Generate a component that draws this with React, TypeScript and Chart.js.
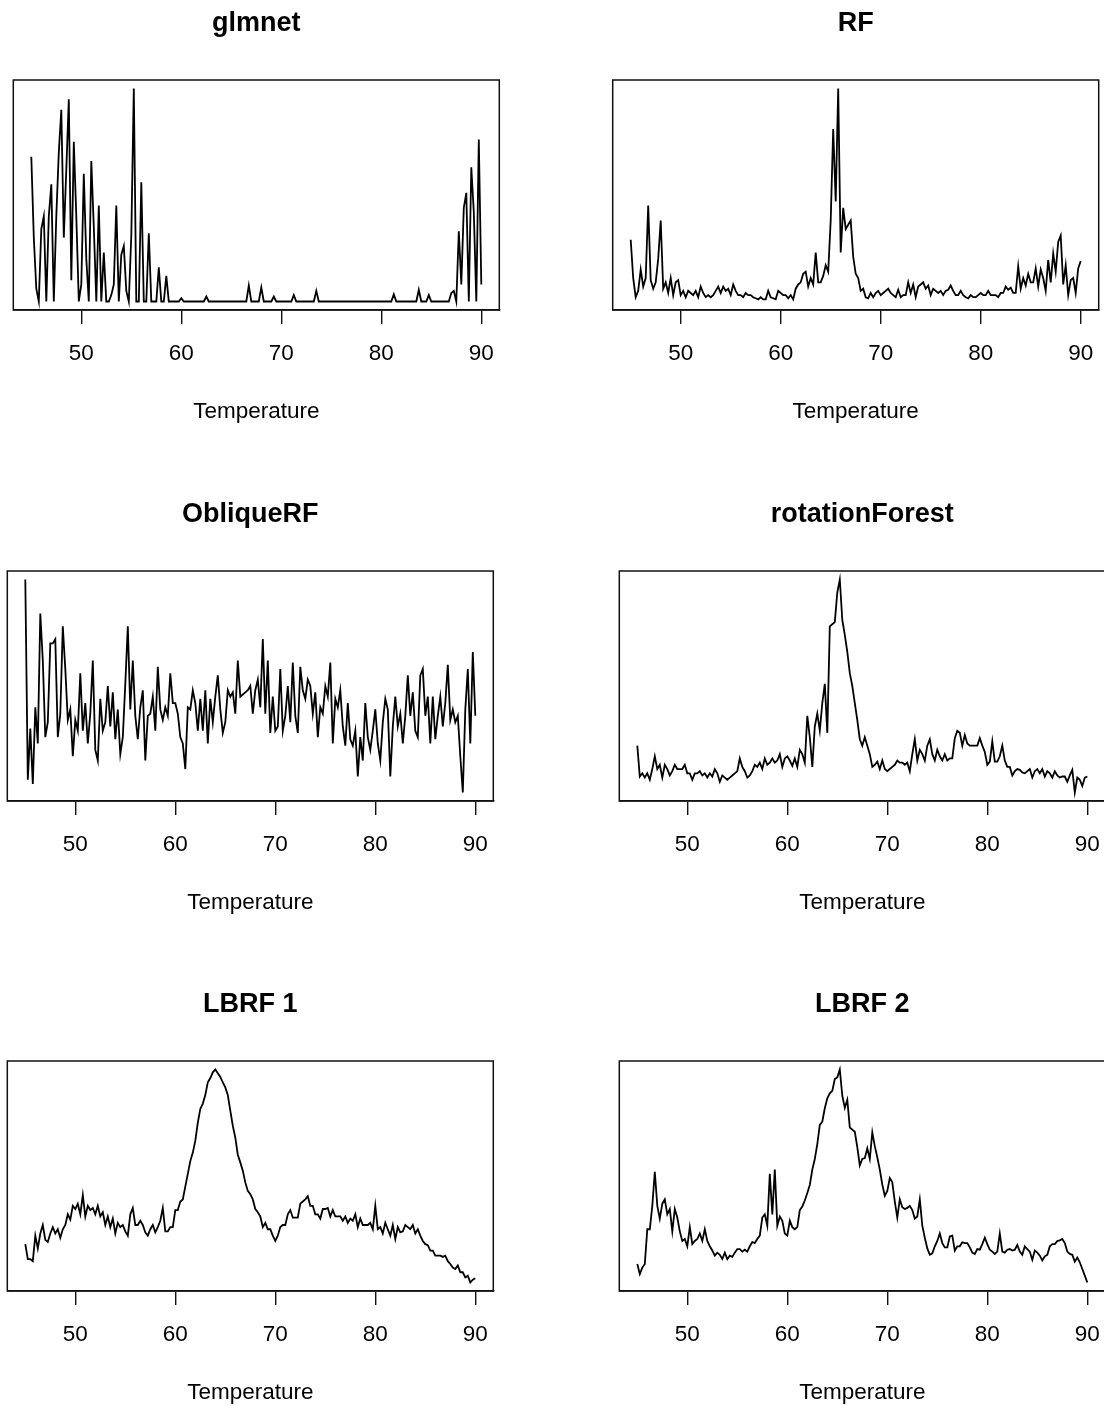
import React, { useEffect, useRef } from "react";
import { Chart, registerables } from "chart.js";

Chart.register(...registerables);

const FONT = "'Liberation Sans', Arial, Helvetica, sans-serif";

// Temperature grid (x categories)
const TEMP_START = 45;
const TEMP_STEP = 0.25;
const TEMP_COUNT = 181;
const temperatures: number[] = Array.from({ length: TEMP_COUNT }, (_, i) => TEMP_START + i * TEMP_STEP);

const xTicks = [50, 60, 70, 80, 90];
const xTickLabels = ["50", "60", "70", "80", "90"];
const xAxisTitle = "Temperature";

// Series values (relative importance, 0 = panel minimum, 100 = panel maximum)
const glmnet = [
  68, 30, 6, 0, 34, 40, 0, 40, 55, 0,
  40, 70, 90, 30, 62, 95, 10, 75, 40, 0,
  8, 60, 20, 0, 66, 35, 0, 45, 0, 23,
  0, 0, 3, 8, 45, 0, 22, 26, 5, 0,
  31, 100, 0, 0, 56, 0, 0, 32, 0, 0,
  0, 16, 0, 0, 12, 0, 0, 0, 0, 0,
  1.5, 0, 0, 0, 0, 0, 0, 0, 0, 0,
  2.3, 0, 0, 0, 0, 0, 0, 0, 0, 0,
  0, 0, 0, 0, 0, 0, 0, 7.5, 0, 0,
  0, 0, 6.6, 0, 0, 0, 0, 2.3, 0, 0,
  0, 0, 0, 0, 0, 3, 0, 0, 0, 0,
  0, 0, 0, 0, 5, 0, 0, 0, 0, 0,
  0, 0, 0, 0, 0, 0, 0, 0, 0, 0,
  0, 0, 0, 0, 0, 0, 0, 0, 0, 0,
  0, 0, 0, 0, 0, 3.4, 0, 0, 0, 0,
  0, 0, 0, 0, 0, 5.5, 0, 0, 0, 3,
  0, 0, 0, 0, 0, 0, 0, 0, 4, 5,
  0, 33, 8, 44, 51, 0, 63, 42, 0, 76,
  8,
];

const rf = [
  29, 11, 2, 5, 15, 7, 11, 45, 10, 6,
  9, 20, 38, 6, 9, 4, 11, 3, 9, 10,
  3, 5, 2, 5, 4, 3, 5, 2, 7, 4,
  2, 3, 2, 3, 5, 7, 4, 7, 5, 6,
  3, 8, 5, 3, 3, 2, 4, 3, 3, 2,
  1.5, 1, 2, 1, 1, 5, 2, 1.5, 1, 5,
  4, 3, 3, 1.5, 3, 1, 6, 8, 9, 13,
  14, 7, 11, 8, 23, 9, 9, 12, 17, 14,
  38, 81, 47, 100, 23, 44, 34, 36, 38, 21,
  13, 11, 5, 6, 2, 1.5, 4, 2, 4, 5,
  3, 4, 5, 6, 4, 3, 2, 5.5, 2, 3,
  3, 9, 4, 8, 2, 7, 8, 9, 6, 7.5,
  3, 6, 5, 4, 5, 3, 5, 5.5, 7.5, 5,
  3, 3, 5, 3, 2, 1.5, 3, 2, 2, 3,
  4, 3, 3, 5, 3, 3, 3, 2, 4, 4,
  7, 5.5, 6.5, 4, 4, 16.5, 6, 11, 7.5, 13,
  9, 9, 15.5, 7, 15, 11, 5, 19.5, 9, 22.5,
  14, 28, 31, 8, 17, 3, 10, 11, 4, 15.5,
  19,
];

const obliqueRF = [
  100, 6, 30, 4, 40, 23, 84, 62, 26, 33,
  70, 70, 72, 26, 37, 78, 58, 34, 39, 17,
  34, 29, 56, 29, 42, 23, 37, 62, 20, 15,
  44, 29, 33, 50, 31, 47, 25, 39, 18, 26,
  51, 78, 39, 62, 36, 25, 40, 48, 15, 36,
  37, 45, 29, 59, 39, 34, 40, 36, 56, 42,
  42, 37, 26, 23, 11, 40, 39, 48, 42, 29,
  44, 29, 48, 23, 44, 33, 45, 55, 39, 28,
  33, 48, 45, 47, 37, 62, 45, 46, 47, 48,
  50, 37, 48, 53, 40, 72, 37, 62, 28, 45,
  29, 31, 58, 29, 36, 50, 33, 61, 36, 28,
  59, 48, 44, 53, 50, 37, 47, 26, 40, 37,
  50, 45, 61, 23, 44, 40, 48, 31, 22, 42,
  25, 22, 29, 7.5, 26, 15, 42, 26, 20, 29,
  39, 23, 15, 33, 44, 39, 7.5, 31, 45, 31,
  37, 23, 36, 55, 36, 47, 29, 26, 55, 58,
  36, 45, 23, 45, 25, 36, 45, 31, 42, 60,
  34, 39, 33, 36, 17, 0, 39, 58, 23, 66,
  36,
];

const rotationForest = [
  22, 7.5, 9, 7, 9, 6, 11, 17, 11, 13,
  7, 13, 11, 8, 10, 13, 11, 11, 11, 13,
  9, 9, 6, 9, 9, 10, 8, 9, 7, 9,
  7.5, 11, 9, 5, 8, 7, 6, 7, 8, 9,
  10, 16, 12, 10, 7, 8, 10, 13, 12, 14,
  11, 16, 13, 14, 16, 14, 15, 18, 12, 16,
  17, 15, 12.5, 16, 12, 20, 18, 14, 36, 26,
  12, 31, 37, 29, 42, 51, 28, 78, 79, 80,
  94, 100, 81, 74, 66, 56, 50, 42, 34, 25,
  22, 26, 22, 18, 12, 13, 14.5, 11, 15, 11,
  10, 11, 12, 13, 15, 14, 14, 13, 14, 10,
  18, 25, 15, 20, 18, 15, 22, 25, 18, 15,
  20, 17, 15, 18, 15, 16, 16, 25.5, 29, 28,
  22, 27, 23, 22, 22, 22, 22, 25.5, 22, 19,
  13, 14.5, 24, 14.5, 14.5, 17, 22, 15, 12, 12,
  8, 10, 11, 10.6, 9.4, 9, 10, 11, 7, 10,
  11, 9, 11, 7.5, 10, 9, 7, 10, 8, 7,
  7.5, 7.5, 5, 8, 10.6, 0, 7, 6, 3, 7,
  7.5,
];

const lbrf1 = [
  18, 11, 11, 10, 22, 16, 23, 27, 20, 19,
  23, 26, 23, 25, 21, 25, 27, 32, 29.5, 36,
  34.5, 37, 32, 41, 31, 36, 34, 35, 32, 36,
  31, 33, 27, 31, 26, 30, 23, 28, 26, 27,
  24, 22, 32, 35, 27, 27, 29, 27, 23.5, 22,
  25, 27, 23.5, 26, 29, 35, 24, 24, 26, 26,
  34, 34, 38, 39, 45, 51, 57, 61, 66.5, 75,
  81.5, 84, 88, 94, 96, 98.7, 100, 98.3, 96.5, 94,
  91.6, 88, 80.7, 73.6, 68, 60, 56.4, 52.5, 47, 43,
  41.5, 39, 34.5, 33, 31, 26, 28, 25, 25, 22,
  19.5, 22, 26, 27, 27, 32, 34, 30.5, 30.5, 30.5,
  37, 38, 39, 40.5, 36, 36, 32, 32, 30, 34.5,
  34.5, 35, 31, 34, 31, 31, 31, 29, 31, 28,
  30, 29, 32, 26, 30, 27, 27, 27, 28, 25,
  36, 25, 26, 23, 28, 25, 22, 27, 20.4, 26,
  23.5, 24, 27, 26, 25, 27, 23, 25, 22, 19.5,
  18, 17.5, 15, 15, 12.6, 12.6, 12.6, 12, 12.6, 10,
  8.7, 7, 6.3, 8, 4.8, 4.8, 2.4, 3.2, 0, 1.3,
  2,
];

const lbrf2 = [
  8.7, 4, 7, 8.7, 25, 25, 36, 52, 36, 30,
  37, 39, 32, 34.5, 24, 34.5, 30.5, 24, 19.5, 20.4,
  17, 26, 18, 19.5, 20.4, 23, 19.5, 25, 19.5, 17,
  15, 12.6, 14, 13, 11, 14, 11, 12.6, 12, 14,
  15.7, 15.7, 14.5, 15.4, 14.5, 17, 19, 18.5, 20.4, 22,
  30.5, 32, 26.7, 51, 32, 53, 26.7, 31, 29, 23,
  22, 29, 26, 25, 26, 34, 35.7, 38.5, 42, 45.8,
  53, 58, 65, 74, 75.5, 81.8, 86.5, 88.8, 90, 95.5,
  96.3, 100, 87.7, 82, 85.8, 72.8, 71.8, 70.8, 63.5, 55,
  58, 58.4, 63, 58, 70.5, 64, 58.8, 53, 46, 40.7,
  43, 49, 47, 38, 30.5, 39, 35.3, 34.5, 35, 36,
  34, 30, 31, 39, 26.7, 21, 16, 13, 13.7, 17,
  19.5, 23, 18.5, 16.5, 16.5, 21.6, 22, 15, 17, 17,
  18.9, 18.5, 18.5, 16.5, 14, 13.4, 15.7, 15.4, 18, 21,
  18, 15.4, 14.5, 13.4, 14.5, 23, 14.5, 14, 15.4, 15.7,
  15, 15.4, 17.6, 14.5, 13, 17, 15.7, 14.5, 10.7, 15,
  14, 12.6, 10.4, 12.3, 13, 17, 18, 18, 19.5, 19.8,
  20.4, 18.5, 14.5, 13.4, 13, 9.8, 11.7, 9.5, 6.3, 3.2,
  0,
];

// Layout of the six panels (positions only)
const CANVAS_W = 600;
const CANVAS_H = 430;
const panels = [
  { title: "glmnet", values: glmnet, left: 0, top: 0, padL: 13.3, padR: 100.7 },
  { title: "RF", values: rf, left: 552, top: 0, padL: 60.7, padR: 53.3 },
  { title: "ObliqueRF", values: obliqueRF, left: 0, top: 491, padL: 7.3, padR: 106.7 },
  { title: "rotationForest", values: rotationForest, left: 552, top: 491, padL: 67.3, padR: 46.7 },
  { title: "LBRF 1", values: lbrf1, left: 0, top: 981, padL: 7.3, padR: 106.7 },
  { title: "LBRF 2", values: lbrf2, left: 552, top: 981, padL: 67.3, padR: 46.7 },
];

const boxPlugin = {
  id: "plotBox",
  afterDatasetsDraw(chart: any) {
    const { ctx, chartArea } = chart;
    const { left, top, right, bottom } = chartArea;
    ctx.save();
    ctx.strokeStyle = "#111";
    ctx.lineWidth = 1.5;
    ctx.strokeRect(left, top, right - left, bottom - top);
    ctx.restore();
  },
};

function Panel(props: { title: string; values: number[]; left: number; top: number; padL: number; padR: number }) {
  const { title, values, left, top, padL, padR } = props;
  const ref = useRef<HTMLCanvasElement | null>(null);
  useEffect(() => {
    if (!ref.current) return;
    const chart = new Chart(ref.current, {
      type: "line",
      data: {
        datasets: [
          {
            data: temperatures.map((t, i) => ({ x: t, y: values[i] })),
            borderColor: "#000",
            borderWidth: 1.8,
            pointRadius: 0,
            tension: 0,
            fill: false,
          },
        ],
      },
      options: {
        animation: false,
        responsive: false,
        maintainAspectRatio: false,
        devicePixelRatio: 1,
        events: [],
        layout: { padding: { left: padL, right: padR, top: 0, bottom: 4.5 } },
        plugins: {
          legend: { display: false },
          tooltip: { enabled: false },
          title: {
            display: true,
            text: title,
            color: "#000",
            font: { family: FONT, size: 27, weight: "bold", lineHeight: 1.2 },
            padding: { top: 7.8, bottom: 39.8 },
          },
        },
        scales: {
          x: {
            type: "linear",
            min: 43.2,
            max: 91.8,
            afterBuildTicks: (scale: any) => {
              scale.ticks = xTicks.map((v) => ({ value: v }));
            },
            ticks: {
              autoSkip: false,
              maxRotation: 0,
              minRotation: 0,
              padding: 16,
              color: "#000",
              font: { family: FONT, size: 22.5, lineHeight: 1.2 },
              callback: (v: any) => {
                const idx = xTicks.indexOf(Number(v));
                return idx >= 0 ? xTickLabels[idx] : "";
              },
            },
            grid: {
              display: true,
              drawOnChartArea: false,
              drawTicks: true,
              tickLength: 14,
              color: "#111",
              lineWidth: 1.4,
            },
            border: { display: true, color: "#111", width: 1.5 },
            title: {
              display: true,
              text: xAxisTitle,
              color: "#000",
              font: { family: FONT, size: 22.5, lineHeight: 1.2 },
              padding: { top: 15.5, bottom: 0 },
            },
          },
          y: { display: false, min: -4, max: 104 },
        },
      },
      plugins: [boxPlugin],
    } as any);
    return () => chart.destroy();
  }, []);
  return (
    <canvas
      ref={ref}
      width={CANVAS_W}
      height={CANVAS_H}
      style={{ position: "absolute", left, top, width: CANVAS_W, height: CANVAS_H }}
    />
  );
}

export default function App() {
  return (
    <div
      style={{
        position: "absolute",
        left: 0,
        top: 0,
        width: 1104,
        height: 1406,
        overflow: "hidden",
        background: "#fff",
      }}
    >
      {panels.map((p) => (
        <Panel key={p.title} {...p} />
      ))}
    </div>
  );
}
